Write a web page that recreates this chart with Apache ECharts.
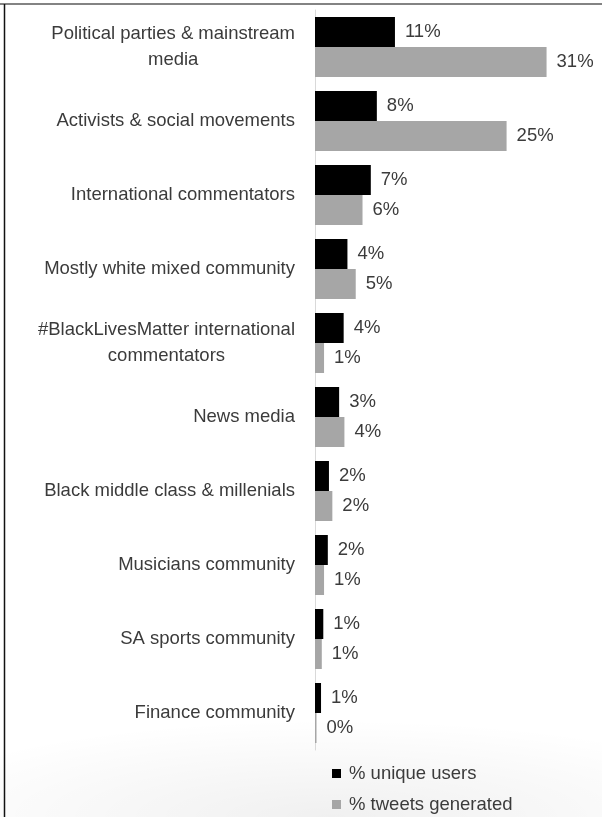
<!DOCTYPE html>
<html>
<head>
<meta charset="utf-8">
<script src="https://cdn.jsdelivr.net/npm/echarts@6/dist/echarts.min.js"></script>
<style>
  html, body { margin: 0; padding: 0; background: #ffffff; }
  #chart {
    width: 602px; height: 817px;
    background: radial-gradient(ellipse 75% 12% at 55% 100%, rgba(0,0,0,0.06), rgba(0,0,0,0) 100%);
  }
</style>
</head>
<body>
<div id="chart"></div>
<script>
const categories = [
  'Political parties & mainstream\nmedia',
  'Activists & social movements',
  'International commentators',
  'Mostly white mixed community',
  '#BlackLivesMatter international\ncommentators',
  'News media',
  'Black middle class & millenials',
  'Musicians community',
  'SA sports community',
  'Finance community'
];
const uniqueUsers = [10.6, 8.2, 7.4, 4.3, 3.8, 3.2, 1.85, 1.7, 1.1, 0.8];
const tweetsGenerated = [30.7, 25.4, 6.3, 5.4, 1.2, 3.9, 2.3, 1.2, 0.9, 0.2];
const seriesNames = ['% unique users', '% tweets generated'];

const textColor = '#3b3b3b';
const font = '"Liberation Sans", Arial, sans-serif';
const fs = 18.5;

const chart = echarts.init(document.getElementById('chart'), null, { renderer: 'canvas' });

const labelCfg = {
  show: true,
  position: 'right',
  distance: 10,
  color: textColor,
  fontSize: fs,
  fontFamily: font,
  formatter: p => Math.round(p.value) + '%'
};

const legendText = { color: textColor, fontSize: fs, fontFamily: font, padding: [0, 0, 0, 3] };

chart.setOption({
  animation: false,
  backgroundColor: 'transparent',
  grid: { left: 315, right: 23, top: 10, bottom: 67, containLabel: false, outerBoundsMode: 'none' },
  xAxis: { type: 'value', min: 0, max: 35, show: false },
  yAxis: {
    type: 'category',
    inverse: true,
    data: categories,
    axisLine: { show: true, lineStyle: { color: '#d9d9d9', width: 1 } },
    axisTick: { show: false },
    axisLabel: {
      margin: 20,
      align: 'right',
      formatter: v => v.split('\n').map(s => '{c|' + s + '}').join('\n'),
      rich: {
        c: { color: textColor, fontSize: fs, fontFamily: font, lineHeight: 26, align: 'center' }
      }
    }
  },
  legend: [
    {
      left: 327, top: 759, itemWidth: 9, itemHeight: 9, icon: 'rect',
      textStyle: legendText, data: [seriesNames[0]]
    },
    {
      left: 327, top: 790, itemWidth: 9, itemHeight: 9, icon: 'rect',
      textStyle: legendText, data: [seriesNames[1]]
    }
  ],
  series: [
    {
      name: seriesNames[0], type: 'bar', data: uniqueUsers,
      barWidth: 30, barGap: '0%',
      itemStyle: { color: '#000000' }, label: labelCfg
    },
    {
      name: seriesNames[1], type: 'bar', data: tweetsGenerated,
      barWidth: 30, barGap: '0%',
      itemStyle: { color: '#a6a6a6' }, label: labelCfg
    }
  ],
  graphic: [
    { type: 'line', shape: { x1: 0, y1: 4, x2: 602, y2: 4 }, style: { stroke: '#5a5a5a', lineWidth: 1.5 }, silent: true },
    { type: 'line', shape: { x1: 4.5, y1: 4, x2: 4.5, y2: 817 }, style: { stroke: '#111111', lineWidth: 1.5 }, silent: true }
  ]
});
</script>
</body>
</html>
